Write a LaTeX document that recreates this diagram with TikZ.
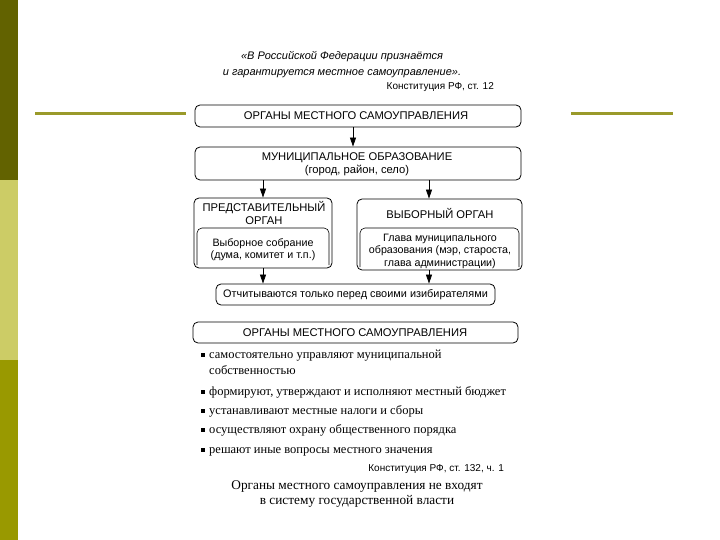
\documentclass[tikz,border=0pt]{standalone}
\usepackage{fontspec}
\setmainfont{Liberation Serif}
\setsansfont{Liberation Sans}
\usetikzlibrary{arrows.meta}
\definecolor{barA}{HTML}{626200}
\definecolor{barB}{HTML}{CCCC66}
\definecolor{barC}{HTML}{999900}
\definecolor{rule}{HTML}{9A9A2A}
\tikzset{
  box/.style={draw, rounded corners=5bp, line width=0.8bp, inner sep=0pt},
  btxt/.style={align=center, inner sep=0pt, font=\sffamily\fontsize{11.2bp}{13bp}\selectfont},
  stxt/.style={align=center, inner sep=0pt, font=\sffamily\fontsize{10.7bp}{12.5bp}\selectfont},
  arr/.style={-{Triangle[width=6bp,length=9bp]}, line width=0.8bp},
  bul/.style={fill=black, minimum size=4.5bp, inner sep=0pt},
  btext/.style={anchor=base west, inner sep=0pt, font=\rmfamily\fontsize{12.5bp}{15bp}\selectfont},
  inner/.style={line width=0.6bp, rounded corners=5bp}
}
\begin{document}
\begin{tikzpicture}[x=1bp,y=-1bp]
\useasboundingbox (0,0) rectangle (720,540);
% left bar
\fill[barA] (0,0) rectangle (18,180);
\fill[barB] (0,180) rectangle (18,360);
\fill[barC] (0,360) rectangle (18,540);
% rules
\draw[rule, line width=3bp] (35,114) -- (186,114);
\draw[rule, line width=3bp] (571,114) -- (673,114);
% quote
\node[align=center, inner sep=0pt, font=\sffamily\itshape\fontsize{11bp}{16bp}\selectfont] (q) at (342,65)
  {«В Российской Федерации признаётся\\и гарантируется местное самоуправление».};
\node[anchor=east, inner sep=0pt, font=\sffamily\fontsize{10bp}{12bp}\selectfont] (c1) at (494,87) {Конституция РФ, ст. 12};
% boxes
\node[box, minimum width=326bp, minimum height=22bp] (b1) at (358,116) {};
\node[btxt] (t1) at (356,116) {ОРГАНЫ МЕСТНОГО САМОУПРАВЛЕНИЯ};
\node[box, minimum width=326bp, minimum height=33bp] (b2) at (358,163.5) {};
\node[btxt] (t2) at (357,164) {МУНИЦИПАЛЬНОЕ ОБРАЗОВАНИЕ\\(город, район, село)};
\node[box, minimum width=138bp, minimum height=70bp] (l) at (263,233) {};
\node[btxt] (lt) at (264,213) {ПРЕДСТАВИТЕЛЬНЫЙ\\ОРГАН};
\draw[inner] (197,265) -- (197,228) -- (329,228) -- (329,265);
\node[stxt] (li) at (263,249.5) {Выборное собрание\\(дума, комитет и т.п.)};
\node[box, minimum width=165bp, minimum height=71bp] (r) at (439.5,234.5) {};
\node[btxt] (rt) at (440,213) {ВЫБОРНЫЙ ОРГАН};
\draw[inner] (360,267) -- (360,228) -- (519,228) -- (519,267);
\node[stxt] (ri) at (440,251) {Глава муниципального\\образования (мэр, староста,\\глава администрации)};
\node[box, minimum width=279bp, minimum height=21bp] (o) at (355.5,294.5) {};
\node[btxt, font=\sffamily\fontsize{10.9bp}{13bp}\selectfont] (ot) at (355.5,294.5) {Отчитываются только перед своими изибирателями};
\node[box, minimum width=325bp, minimum height=21bp] (b5) at (355.5,332.5) {};
\node[btxt] (t5) at (355,332.5) {ОРГАНЫ МЕСТНОГО САМОУПРАВЛЕНИЯ};
% arrows
\draw[arr] ([xshift=-5bp]b1.south) -- ([xshift=-5bp]b2.north);
\draw[arr] (b2.south -| l.north) -- (l.north);
\draw[arr] ([xshift=-10.5bp]b2.south -| r.north) -- ([xshift=-10.5bp]r.north);
\draw[arr] (l.south) -- (l.south |- o.north);
\draw[arr] ([xshift=-10.5bp]r.south) -- ([xshift=-10.5bp]r.south |- o.north);
% bullets
\node[bul] (p1) at (203,355) {};
\node[btext] (s1) at (209,358.5) {самостоятельно управляют муниципальной};
\node[btext] (s1b) at (209,374) {собственностью};
\node[bul] (p2) at (203,392) {};
\node[btext] (s2) at (209,395.5) {формируют, утверждают и исполняют местный бюджет};
\node[bul] (p3) at (203,411) {};
\node[btext] (s3) at (209,414.5) {устанавливают местные налоги и сборы};
\node[bul] (p4) at (203,430) {};
\node[btext] (s4) at (209,433.5) {осуществляют охрану общественного порядка};
\node[bul] (p5) at (203,450) {};
\node[btext] (s5) at (209,453.5) {решают иные вопросы местного значения};
\node[anchor=east, inner sep=0pt, font=\sffamily\fontsize{10bp}{12bp}\selectfont] (c2) at (504,469) {Конституция РФ, ст. 132, ч. 1};
\node[align=center, inner sep=0pt, font=\rmfamily\fontsize{13.3bp}{15bp}\selectfont] (f) at (357,494)
  {Органы местного самоуправления не входят\\в систему государственной власти};
\end{tikzpicture}
\end{document}
